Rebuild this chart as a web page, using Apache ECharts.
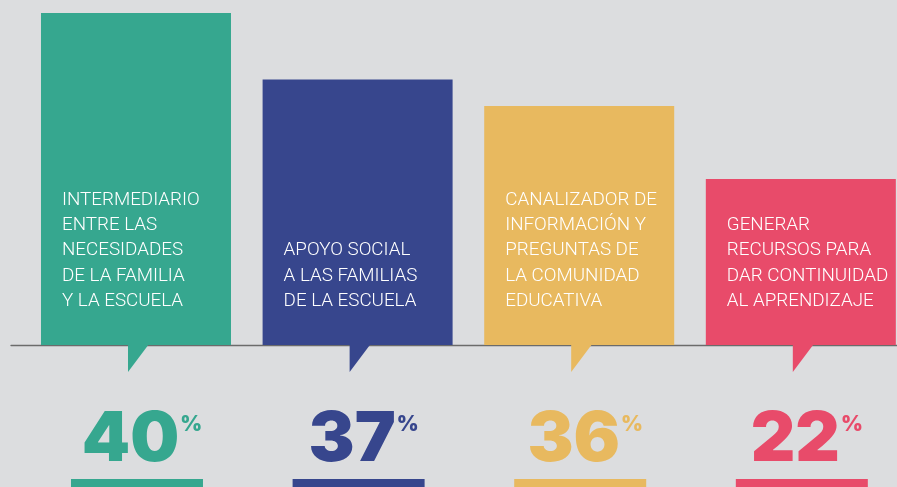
<!DOCTYPE html>
<html>
<head>
<meta charset="utf-8">
<script src="https://cdn.jsdelivr.net/npm/echarts@6/dist/echarts.min.js"></script>
<style>
  html, body { margin: 0; padding: 0; background: #dcdddf; }
  #chart { width: 897px; height: 487px; }
</style>
</head>
<body>
<div id="chart"></div>
<script>
// Categories (text inside each bar)
var categories = [
  'INTERMEDIARIO\nENTRE LAS\nNECESIDADES\nDE LA FAMILIA\nY LA ESCUELA',
  'APOYO SOCIAL\nA LAS FAMILIAS\nDE LA ESCUELA',
  'CANALIZADOR DE\nINFORMACIÓN Y\nPREGUNTAS DE\nLA COMUNIDAD\nEDUCATIVA',
  'GENERAR\nRECURSOS PARA\nDAR CONTINUIDAD\nAL APRENDIZAJE'
];
// Percentages shown below each bar
var percentages = [40, 37, 36, 22];
// Visual bar heights as drawn (relative level, tallest = 100)
var barLevels = [100, 80, 72, 50];
var colors = ['#36a78f', '#37468d', '#e8b95f', '#e84b6a'];

var chart = echarts.init(document.getElementById('chart'));

var barData = barLevels.map(function (v, i) {
  return { value: [i, v], itemStyle: { color: colors[i] } };
});
var pctData = percentages.map(function (v, i) { return [i, v]; });

var option = {
  backgroundColor: '#dcdddf',
  animation: false,
  grid: { left: 11, right: 0, top: 13, bottom: 142, containLabel: false },
  xAxis: {
    type: 'value',
    min: -0.564,
    max: 3.434,
    axisLine: { show: true, onZero: true, lineStyle: { color: '#6b6b6b', width: 1.3 } },
    axisTick: { show: false },
    axisLabel: { show: false },
    splitLine: { show: false }
  },
  yAxis: {
    type: 'value',
    min: 0,
    max: 100,
    axisLine: { show: false },
    axisTick: { show: false },
    axisLabel: { show: false },
    splitLine: { show: false }
  },
  series: [
    {
      type: 'bar',
      barWidth: 190,
      data: barData,
      z: 3,
      label: {
        show: true,
        position: 'insideBottomLeft',
        distance: 0,
        offset: [21, -31],
        align: 'left',
        verticalAlign: 'bottom',
        color: '#ffffff',
        fontFamily: 'Roboto',
        fontWeight: 300,
        fontSize: 18.8,
        lineHeight: 25.3,
        formatter: function (p) { return categories[p.dataIndex]; }
      }
    },
    {
      type: 'custom',
      z: 4,
      clip: false,
      data: pctData,
      renderItem: function (params, api) {
        var i = api.value(0);
        var pct = api.value(1);
        var pt = api.coord([i, 0]);
        var cx = pt[0], by = pt[1];
        var col = colors[params.dataIndex];
        var rc = cx + 1;
        return {
          type: 'group',
          children: [
            {
              type: 'polygon',
              shape: { points: [[cx - 8, by - 1], [cx + 13, by - 1], [cx - 8, by + 27]] },
              style: { fill: col }
            },
            {
              type: 'rect',
              shape: { x: rc - 66, y: by + 134, width: 132, height: 20 },
              style: { fill: col }
            },
            {
              type: 'text',
              style: {
                x: rc + 5,
                y: by + 60,
                text: '{n|' + pct + '}{p|%}',
                align: 'center',
                verticalAlign: 'top',
                rich: {
                  n: {
                    fontFamily: 'Inter',
                    fontWeight: 900,
                    fontSize: 69,
                    lineHeight: 70,
                    fill: col
                  },
                  p: {
                    fontFamily: 'Inter',
                    fontWeight: 900,
                    fontSize: 21,
                    lineHeight: 24,
                    verticalAlign: 'top',
                    padding: [9, 0, 0, 1],
                    fill: col
                  }
                }
              }
            }
          ]
        };
      }
    }
  ]
};
chart.setOption(option);
</script>
</body>
</html>
